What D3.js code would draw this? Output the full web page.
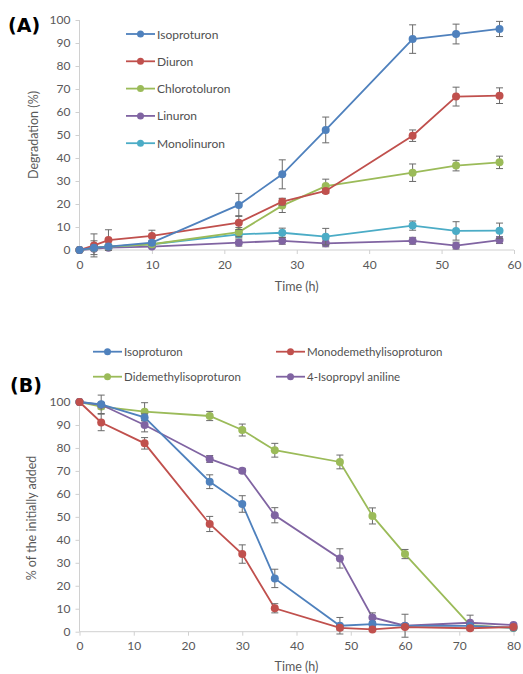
<!DOCTYPE html>
<html><head><meta charset="utf-8">
<script src="https://cdn.jsdelivr.net/npm/d3@7"></script>
<style>body{margin:0;background:#fff}svg{display:block}text{font-family:Lato,"Open Sans",sans-serif}</style>
</head><body>
<svg id="c" width="523" height="674"></svg>
<script>
// ---- Panel A data ----
const timeA = [0,2,4,10,22,28,34,46,52,58];
const namesA = ["Isoproturon","Diuron","Chlorotoluron","Linuron","Monolinuron"];
const isoA   = [0,1,1.5,3.2,19.6,32.9,52.2,91.7,93.9,96.1];
const isoAErr= [0,0.5,0.5,1,5,6.3,5.6,6.2,4.3,3.3];
const diuA   = [0,2,4.3,6.1,11.9,21,25.7,49.7,66.7,67.1];
const diuAErr= [0,5,4.5,2.5,3,1.5,1,2.5,4.1,3.4];
const chlA   = [0,1,1.5,2.5,7.8,19.3,27.8,33.6,36.7,38.1];
const chlAErr= [0,3,0.5,0.5,2,3,3,3.8,2.3,2.7];
const linA   = [0,0.5,1,1.5,3.2,4,2.9,4,1.9,4.3];
const linAErr= [0,0.5,0.5,0.5,1.5,1.5,1.5,1.5,1.5,1.5];
const monA   = [0,1,1.5,2.5,6.8,7.5,5.8,10.6,8.3,8.4];
const monAErr= [0,1,0.5,1,1.5,2,3.6,2,4,3.3];
const ticksAx = [0,10,20,30,40,50,60];
const ticksAy = [0,10,20,30,40,50,60,70,80,90,100];

// ---- Panel B data ----
const timeB = [0,4,12,24,30,36,48,54,60,72,80];
const namesB = ["Isoproturon","Monodemethylisoproturon","Didemethylisoproturon","4-Isopropyl aniline"];
const isoB    = [100,99,93.3,65.3,55.6,23.2,2.6,3.3,2.5,2.5,1.7];
const isoBErr = [0,4,1.5,3,3.6,4,3.6,1,1,1,0.5];
const monoB   = [100,91.1,82,46.9,33.8,10.2,1.7,1,2,1.5,2];
const monoBErr= [0,3.6,2.5,3.3,4,2,1,0.5,0.5,0.5,0.5];
const didB    = [100,98,95.8,93.9,87.8,79,73.9,50.4,33.8,2.9,1.6];
const didBErr = [0,1,3.9,2,2.6,3,3,3.5,2,1,0.5];
const anilB   = [100,98.8,90,75.2,70.1,50.7,31.9,6.2,2.6,3.9,2.9];
const anilBErr= [0,1,3,1.5,1,3.3,4.2,2,5,3.3,0.5];
const ticksBx = [0,10,20,30,40,50,60,70,80];
const ticksBy = [0,10,20,30,40,50,60,70,80,90,100];

const colors = {blue:"#4F81BD", red:"#C0504D", green:"#9BBB59", purple:"#8064A2", cyan:"#4BACC6"};
const seriesA = [
  {name:namesA[0], v:isoA, e:isoAErr, c:colors.blue},
  {name:namesA[1], v:diuA, e:diuAErr, c:colors.red},
  {name:namesA[2], v:chlA, e:chlAErr, c:colors.green},
  {name:namesA[3], v:linA, e:linAErr, c:colors.purple},
  {name:namesA[4], v:monA, e:monAErr, c:colors.cyan}
];
const seriesB = [
  {name:namesB[0], v:isoB, e:isoBErr, c:colors.blue},
  {name:namesB[1], v:monoB, e:monoBErr, c:colors.red},
  {name:namesB[2], v:didB, e:didBErr, c:colors.green},
  {name:namesB[3], v:anilB, e:anilBErr, c:colors.purple}
];

const svg = d3.select("#c");
const axisCol = "#d0d0d0", txtCol = "#595959";

function panel(o){
  const x = d3.scaleLinear().domain(o.xd).range([o.x0,o.x1]);
  const y = d3.scaleLinear().domain([0,100]).range([o.y1,o.y0]);
  const g = svg.append("g");
  const ax = g.append("g").attr("transform",`translate(0,${o.y1})`)
    .call(d3.axisBottom(x).tickValues(o.tx).tickSize(4).tickPadding(6));
  const ay = g.append("g").attr("transform",`translate(${o.x0},0)`)
    .call(d3.axisLeft(y).tickValues(o.ty).tickSize(4).tickPadding(5));
  [ax,ay].forEach(a=>{
    a.selectAll("path,line").attr("stroke",axisCol).attr("stroke-width",1);
    a.selectAll("text").attr("fill",txtCol).style("font-size","12px").style("font-family","Lato,sans-serif");
  });
  ax.select(".domain").attr("d",`M${o.x0},0H${o.x1}`);
  ay.select(".domain").attr("d",`M0,${o.y1}V${o.y0}`);
  g.append("text").attr("x",(o.x0+o.x1)/2).attr("y",o.xlabY).attr("text-anchor","middle")
    .attr("fill",txtCol).style("font-size","12.5px").text("Time (h)");
  g.append("text").attr("transform",`translate(${o.ylabX},${o.ylabCY}) rotate(-90)`)
    .attr("text-anchor","middle").attr("dominant-baseline","middle")
    .attr("fill",txtCol).style("font-size","12.5px").text(o.ylab);
  g.append("text").attr("x",o.tagX).attr("y",o.tagY).attr("fill","#000")
    .style("font-size","19px").style("font-weight","bold").style("font-family","'DejaVu Sans',sans-serif").text(o.tag);
  const line = d3.line().x((d,i)=>x(o.t[i])).y(d=>y(d));
  const order = o.order || o.series.map((s,i)=>i);
  order.forEach(k=>{
    const s = o.series[k];
    const sg = g.append("g");
    sg.append("path").datum(s.v).attr("d",line).attr("fill","none").attr("stroke",s.c).attr("stroke-width",1.8);
    s.v.forEach((v,i)=>{
      const e = s.e[i];
      if(e>0){
        const cx = x(o.t[i]);
        sg.append("path").attr("d",`M${cx},${y(v-e)}V${y(v+e)}M${cx-3.5},${y(v-e)}H${cx+3.5}M${cx-3.5},${y(v+e)}H${cx+3.5}`)
          .attr("stroke","#6a6a6a").attr("stroke-width",1).attr("fill","none");
      }
    });
    sg.selectAll("circle").data(s.v).join("circle").attr("cx",(d,i)=>x(o.t[i])).attr("cy",d=>y(d))
      .attr("r",4).attr("fill",s.c);
  });
  // legend
  o.series.forEach((s,i)=>{
    const p = o.leg[i];
    const lg = g.append("g");
    lg.append("line").attr("x1",p[0]).attr("x2",p[0]+29).attr("y1",p[1]).attr("y2",p[1]).attr("stroke",s.c).attr("stroke-width",1.8);
    lg.append("circle").attr("cx",p[0]+14.5).attr("cy",p[1]).attr("r",3.5).attr("fill",s.c);
    lg.append("text").attr("x",p[0]+31).attr("y",p[1]).attr("dominant-baseline","central")
      .attr("fill","#505050").style("font-size",o.legFont).text(s.name);
  });
}

panel({x0:79.5,x1:514,y0:20,y1:250,xd:[0,60],tx:ticksAx,ty:ticksAy,t:timeA,series:seriesA,
  order:[3,4,2,1,0],
  xlabY:291,ylabX:35,ylabCY:135,ylab:"Degradation (%)",tag:"(A)",tagX:8,tagY:32,
  leg:[[126,34],[126,61.3],[126,88.6],[126,115.9],[126,143.2]],legFont:"12px"});

panel({x0:79.5,x1:513.5,y0:402,y1:631.7,xd:[0,80],tx:ticksBx,ty:ticksBy,t:timeB,series:seriesB,
  order:[2,3,0,1],
  xlabY:671,ylabX:33,ylabCY:518,ylab:"% of the initially added",tag:"(B)",tagX:10,tagY:392,
  leg:[[93,351.7],[276,351.7],[93,376.7],[276,376.7]],legFont:"11.5px"});
</script>
</body></html>
